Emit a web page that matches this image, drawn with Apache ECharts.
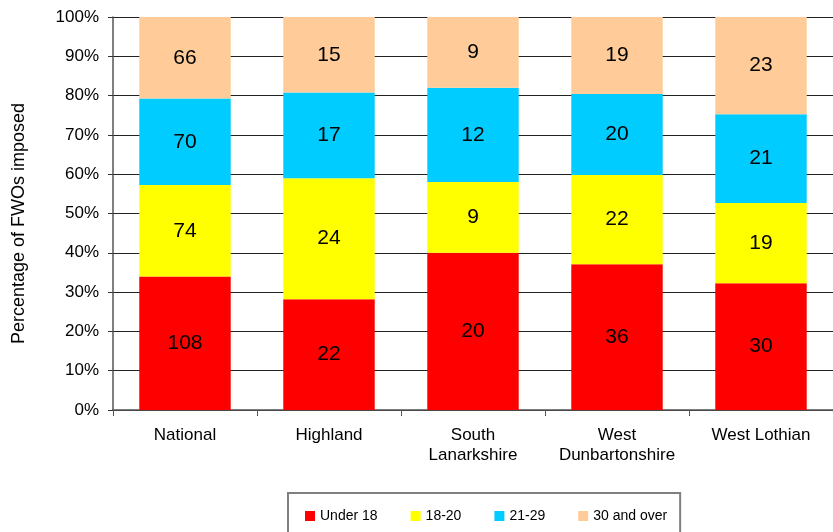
<!DOCTYPE html>
<html>
<head>
<meta charset="utf-8">
<script src="https://cdn.jsdelivr.net/npm/echarts@6/dist/echarts.min.js"></script>
<style>
  html, body { margin: 0; padding: 0; background: #fff; }
  #chart { width: 833px; height: 532px; }
</style>
</head>
<body>
<div id="chart"></div>
<script>
const categories = ['National', 'Highland', 'South\nLanarkshire', 'West\nDunbartonshire', 'West Lothian'];
const under18 = [108, 22, 20, 36, 30];
const age18to20 = [74, 24, 9, 22, 19];
const age21to29 = [70, 17, 12, 20, 21];
const age30plus = [66, 15, 9, 19, 23];
const yTicks = [0, 10, 20, 30, 40, 50, 60, 70, 80, 90, 100];

const groups = [
    { name: 'Under 18', data: under18, color: '#FF0000' },
    { name: '18-20', data: age18to20, color: '#FFFF00' },
    { name: '21-29', data: age21to29, color: '#00CCFF' },
    { name: '30 and over', data: age30plus, color: '#FFCC99' },
];

// bars are drawn as share of each area's total, labels show the counts
const totals = categories.map((c, i) => groups.reduce((s, g) => s + g.data[i], 0));

const chart = echarts.init(document.getElementById('chart'));
const font = 'Liberation Sans, Arial, sans-serif';

const option = {
    animation: false,
    textStyle: { fontFamily: font },
    grid: {
        left: 113,
        top: 17,
        width: 723,
        bottom: 122,
    },
    legend: {
        left: 288,
        top: 493,
        icon: 'rect',
        itemWidth: 10,
        itemHeight: 10,
        itemGap: 33,
        padding: [16, 13, 16, 17],
        borderColor: '#808080',
        borderWidth: 2,
        textStyle: { fontSize: 14, color: '#000', fontFamily: font },
        data: groups.map((g) => g.name),
    },
    xAxis: {
        type: 'category',
        data: categories,
        axisLine: { lineStyle: { color: '#555', width: 1.5 } },
        axisTick: {
            show: true, interval: 0, length: 6, lineStyle: { color: '#555' },
        },
        axisLabel: {
            interval: 0,
            color: '#000',
            fontSize: 17,
            lineHeight: 20,
            margin: 15,
            fontFamily: font,
        },
    },
    yAxis: {
        type: 'value',
        min: yTicks[0],
        max: yTicks[yTicks.length - 1],
        interval: 10,
        name: 'Percentage of FWOs imposed',
        nameLocation: 'middle',
        nameGap: 85,
        nameTextStyle: {
            fontSize: 18, color: '#000', fontFamily: font, padding: [0, 20, 0, 0],
        },
        axisLine: { show: true, lineStyle: { color: '#555', width: 1.5 } },
        axisTick: { show: true, length: 5, lineStyle: { color: '#333' } },
        splitLine: { show: true, lineStyle: { color: '#222', width: 1 } },
        axisLabel: {
            color: '#000',
            fontSize: 17,
            margin: 14,
            formatter: '{value}%',
            fontFamily: font,
        },
    },
    series: groups.map((g) => ({
        name: g.name,
        type: 'bar',
        stack: 'total',
        barCategoryGap: '36.5%',
        itemStyle: { color: g.color },
        data: g.data.map((v, i) => ({ value: v / totals[i] * 100, count: v })),
        label: {
            show: true,
            position: 'inside',
            color: '#000',
            fontSize: 21,
            fontFamily: font,
            formatter: (p) => String(p.data.count),
        },
    })),
};

chart.setOption(option);
</script>
</body>
</html>
